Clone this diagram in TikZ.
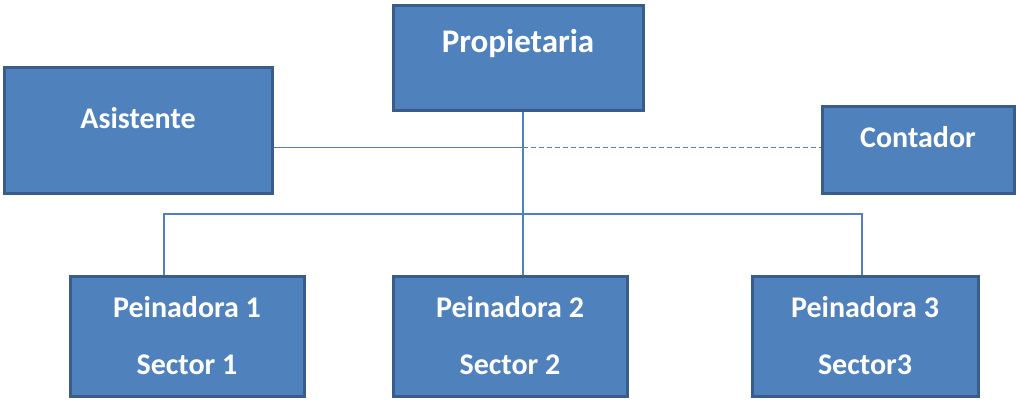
\documentclass[tikz,border=0pt]{standalone}
\usepackage{fontspec}
\setmainfont{Carlito}
\definecolor{boxfill}{HTML}{4F81BD}
\definecolor{boxline}{HTML}{385D8A}
\definecolor{linkcol}{HTML}{4F81BD}

\begin{document}
\begin{tikzpicture}[
  x=1pt,y=-1pt,
  every node/.style={font=\bfseries\fontsize{30}{57}\selectfont,text=white,inner sep=0pt},
  box/.style={draw=boxline,line width=3pt,fill=boxfill},
  onebox/.style={box,text height=19.3pt,text depth=#1},
  twobox/.style={box,align=center,minimum width=234pt,minimum height=120pt},
  link/.style={draw=linkcol,line width=1.7pt},
  dashlink/.style={link,line width=1.5pt,dash pattern=on 5pt off 3pt}]

  \useasboundingbox (0,0) rectangle (1016,399);

  % Position the boxes at their centres
  \node[onebox=31.6pt,minimum width=250pt,minimum height=105pt,
        font=\bfseries\fontsize{33}{40}\selectfont,text height=21.2pt] (prop) at (518,57.5) {Propietaria};
  \node[onebox=21.6pt,minimum width=268pt,minimum height=126pt] (asis) at (138,130) {Asistente};
  \node[onebox=24pt,minimum width=192pt,minimum height=87pt] (cont) at (918,149.5) {Contador};

  \node[twobox] (p1) at (187,336) {Peinadora 1\\Sector 1};
  \node[twobox] (p2) at (510,336) {Peinadora 2\\Sector 2};
  \node[twobox,minimum width=226pt] (p3) at (865,336) {Peinadora 3\\Sector3};

  % Points where the lines meet
  \coordinate (mid) at (523,147.5);
  \coordinate (b1) at (164,214);
  \coordinate (b3) at (862,214);

  % Draw the lines between the boxes
  \draw[link] (prop.south -| mid) -- (p2.north -| mid);
  \draw[link] (asis.east |- mid) -- (mid);
  \draw[dashlink] (mid) -- (cont.west |- mid);
  \draw[link] (p1.north -| b1) -- (b1) -- (b3) -- (p3.north -| b3);

\end{tikzpicture}
\end{document}
